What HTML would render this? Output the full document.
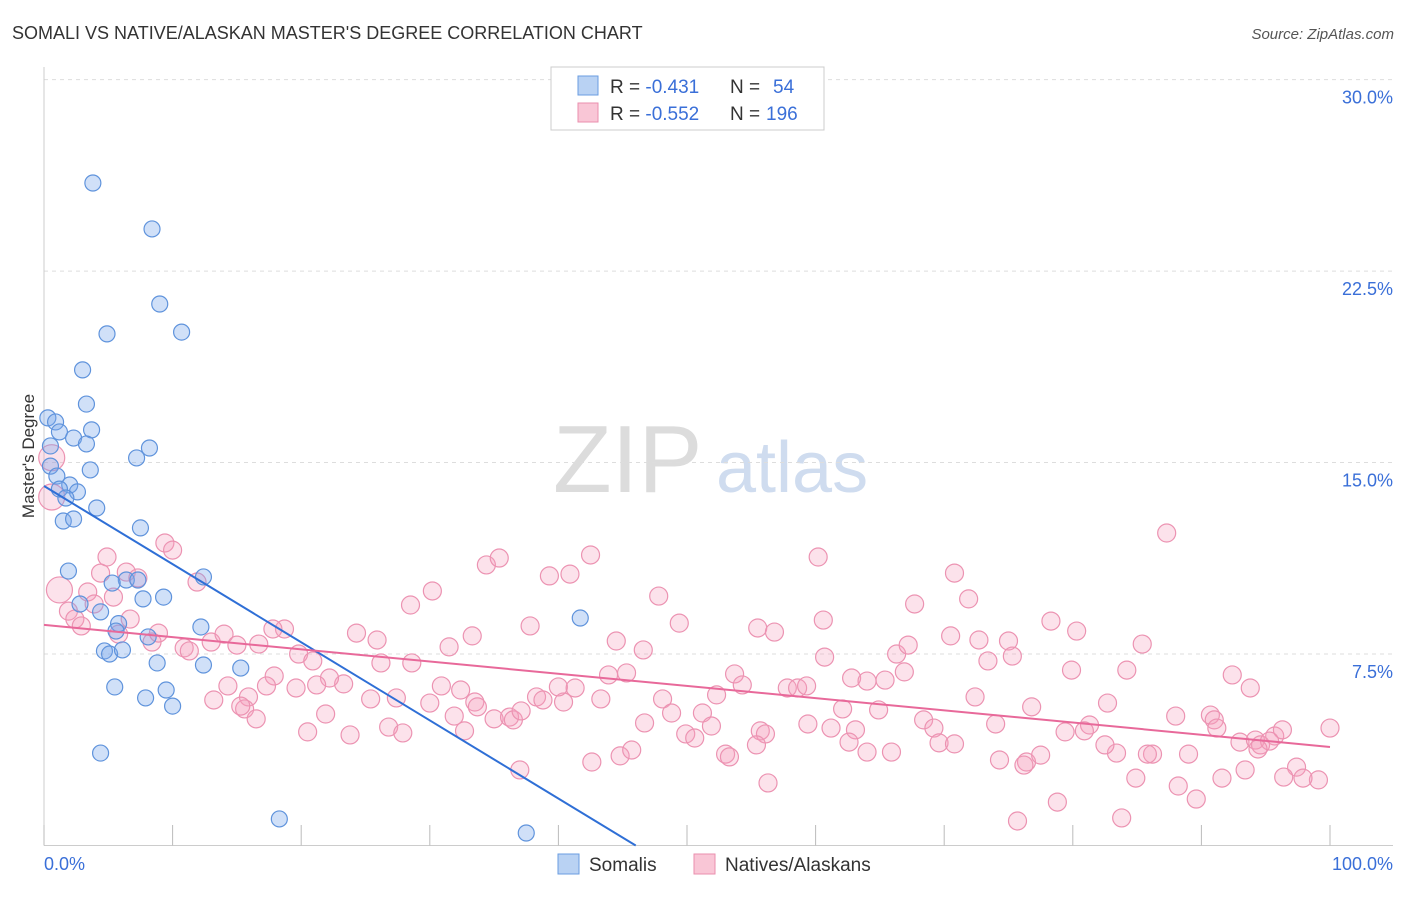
<!DOCTYPE html>
<html><head><meta charset="utf-8">
<style>
body{margin:0;background:#fff;font-family:"Liberation Sans",sans-serif;}
svg text{font-family:"Liberation Sans",sans-serif;}
</style></head>
<body>
<svg id="chart" width="1406" height="892" xmlns="http://www.w3.org/2000/svg">
<text x="12" y="39" font-size="18" fill="#333">SOMALI VS NATIVE/ALASKAN MASTER'S DEGREE CORRELATION CHART</text>
<text x="1394" y="39" font-size="15" fill="#555" text-anchor="end" font-style="italic">Source: ZipAtlas.com</text>
<g>
<text x="553" y="492" font-size="96" font-family="Liberation Serif" fill="#dcdcdc">ZIP</text>
<text x="716" y="492" font-size="72" fill="#cfdcef">atlas</text>
</g>
<g id="grid"></g>
<g id="axes"></g>
<g id="marks"></g>
<g id="trends"></g>
<text transform="translate(34,456) rotate(-90)" font-size="17" fill="#333" text-anchor="middle">Master's Degree</text>
<g>
<rect x="551" y="67" width="273" height="63" fill="#fff" stroke="#ccc"/>
<rect x="578" y="76" width="20" height="19" fill="#b9d2f3" stroke="#6a9ce0"/>
<rect x="578" y="103" width="20" height="19" fill="#f9c6d6" stroke="#ea8fae"/>
<text x="610" y="93" font-size="19" fill="#333">R = <tspan fill="#3a6fd8">-0.431</tspan><tspan x="730">N = </tspan><tspan fill="#3a6fd8" x="773">54</tspan></text>
<text x="610" y="120" font-size="19" fill="#333">R = <tspan fill="#3a6fd8">-0.552</tspan><tspan x="730">N = </tspan><tspan fill="#3a6fd8" x="766">196</tspan></text>
</g>
<g>
<rect x="558" y="854" width="21" height="20" fill="#b9d2f3" stroke="#6a9ce0"/>
<text x="589" y="871" font-size="19" fill="#333">Somalis</text>
<rect x="694" y="854" width="21" height="20" fill="#f9c6d6" stroke="#ea8fae"/>
<text x="725" y="871" font-size="19" fill="#333">Natives/Alaskans</text>
</g>
</svg>
<script>
const yTicks=[7.5,15,22.5,30];
const yTickLabels=["7.5%","15.0%","22.5%","30.0%"];
const xTickLabels=["0.0%","100.0%"];
const somaliX=[3.8,8.4,9.0,10.7,4.9,3.0,3.3,0.3,0.9,1.2,3.7,2.3,3.3,8.2,7.2,0.5,3.6,1.0,2.0,1.2,2.6,1.7,4.1,1.5,2.3,7.5,1.9,12.4,6.4,5.3,7.3,2.8,4.4,7.7,9.3,5.8,12.2,8.1,5.6,4.7,5.1,6.1,8.8,12.4,15.3,5.5,9.5,7.9,10.0,4.4,18.3,37.5,41.7,0.5];
const somaliY=[25.95,24.15,21.21,20.11,20.04,18.63,17.29,16.75,16.59,16.2,16.28,15.96,15.73,15.57,15.18,14.86,14.71,14.47,14.12,13.96,13.85,13.61,13.22,12.71,12.79,12.44,10.75,10.52,10.4,10.28,10.4,9.46,9.15,9.66,9.73,8.69,8.56,8.17,8.4,7.62,7.5,7.66,7.15,7.07,6.95,6.21,6.09,5.78,5.46,3.62,1.04,0.49,8.91,15.65];
const nativeX=[0.6,0.6,1.2,4.9,4.4,6.4,7.3,9.4,10.0,11.9,3.4,5.4,3.9,1.9,2.4,2.9,6.7,5.8,8.4,8.9,10.9,11.3,13.0,14.0,15.0,16.7,18.7,17.8,19.8,20.9,24.3,25.9,28.5,30.2,34.4,35.4,39.3,40.9,42.5,37.8,33.3,31.5,28.6,26.2,23.3,22.2,21.2,19.6,17.9,17.3,15.9,14.3,15.6,13.2,16.5,15.3,20.5,21.9,23.8,26.8,27.9,25.4,27.4,30.0,30.9,32.4,33.5,35.0,31.9,32.7,36.2,36.5,37.1,38.3,38.8,40.4,40.0,41.3,43.3,43.9,45.3,44.5,46.6,47.8,49.4,48.1,48.8,46.7,49.9,50.6,51.2,51.9,53.7,54.3,52.3,55.5,56.8,57.8,58.6,59.3,60.2,60.6,60.7,62.8,64.0,66.3,67.2,66.9,65.4,62.1,61.2,63.1,64.9,67.7,70.8,71.9,70.5,72.7,75.0,75.3,73.4,72.4,68.4,69.2,69.6,70.8,74.0,74.3,76.8,76.4,78.3,80.3,79.9,82.7,84.2,85.4,87.3,92.4,93.8,88.0,90.7,89.0,91.0,91.2,93.0,94.2,95.7,96.3,94.6,95.3,100.0,97.4,99.1,97.9,96.4,94.4,93.4,91.6,89.6,88.2,84.9,83.8,78.8,75.7,86.2,85.8,83.4,82.5,81.3,80.9,79.4,77.5,76.2,65.9,64.0,62.6,59.4,55.7,56.1,56.3,55.4,53.0,53.3,44.8,42.6,45.7,37.0,33.7];
const nativeY=[15.19,13.65,10.01,11.3,10.67,10.71,10.48,11.85,11.57,10.32,9.93,9.73,9.46,9.18,8.87,8.6,8.87,8.28,7.97,8.32,7.74,7.62,7.97,8.28,7.85,7.89,8.48,8.48,7.5,7.23,8.32,8.05,9.42,9.97,10.99,11.26,10.56,10.63,11.38,8.6,8.21,7.78,7.15,7.15,6.33,6.56,6.29,6.17,6.64,6.25,5.82,6.25,5.35,5.7,4.96,5.46,4.45,5.15,4.33,4.64,4.41,5.74,5.78,5.58,6.25,6.09,5.62,4.96,5.07,4.49,5.03,4.92,5.27,5.82,5.7,5.62,6.21,6.17,5.74,6.68,6.76,8.01,7.66,9.77,8.71,5.74,5.19,4.8,4.37,4.21,5.19,4.68,6.72,6.29,5.9,8.52,8.36,6.17,6.17,6.25,11.3,8.83,7.38,6.56,6.44,7.5,7.85,6.8,6.48,5.35,4.6,4.53,5.31,9.46,10.67,9.66,8.21,8.05,8.01,7.42,7.23,5.82,4.92,4.6,4.02,3.98,4.76,3.35,5.43,3.27,8.79,8.4,6.87,5.58,6.87,7.89,12.24,6.68,6.17,5.07,5.11,3.58,4.92,4.6,4.05,4.13,4.29,4.53,3.94,4.09,4.6,3.07,2.57,2.64,2.68,3.78,2.96,2.64,1.82,2.33,2.64,1.08,1.7,0.96,3.58,3.58,3.62,3.94,4.72,4.49,4.45,3.54,3.15,3.66,3.66,4.05,4.76,4.49,4.37,2.45,3.94,3.58,3.47,3.51,3.27,3.74,2.96,5.43];
const somaliTrend=[14.08,-0.306];
const nativeTrend=[8.64,-0.0478];
const NS="http://www.w3.org/2000/svg";
const X0=44,X1=1330,Y0=845.5,PPU=25.53;
const sx=p=>X0+p*(X1-X0)/100;
const sy=v=>Y0-v*PPU;
function mk(tag,attrs,parent){const e=document.createElementNS(NS,tag);for(const k in attrs)e.setAttribute(k,attrs[k]);parent.appendChild(e);return e;}
const grid=document.getElementById('grid'),axes=document.getElementById('axes'),marks=document.getElementById('marks'),trends=document.getElementById('trends');
yTicks.forEach((t,i)=>{
 const l=mk('line',{x1:X0,x2:1393,y1:sy(t),y2:sy(t),stroke:'#ddd','stroke-dasharray':'4,4'},grid);
 
 
 const tx=mk('text',{x:1393,y:sy(t)+24,'font-size':18,fill:'#3a6fd8','text-anchor':'end'},axes);
 tx.textContent=yTickLabels[i];
 
 
});
const la=mk('line',{x1:X0,x2:X0,y1:67,y2:Y0,stroke:'#ccc'},axes);


const ba=mk('line',{x1:X0,x2:1393,y1:Y0,y2:Y0,stroke:'#ccc'},axes);


for(let p=0;p<=100;p+=10){
 const t=mk('line',{x1:sx(p),x2:sx(p),y1:825,y2:Y0,stroke:'#bbb'},axes);
 
 
}
[[0,'start',44],[100,'end',1393]].forEach((a,i)=>{
 const tx=mk('text',{x:a[2],y:870,'font-size':18,fill:'#3a6fd8','text-anchor':a[1]},axes);
 tx.textContent=xTickLabels[i];
 
 
});
nativeX.forEach((x,i)=>{
 const r=i<3?13:9;
 const c=mk('circle',{cx:sx(x),cy:sy(nativeY[i]),r:r,fill:'rgba(244,160,188,0.3)',stroke:'#ec93b2','stroke-width':1.2},marks);
 
 
});
somaliX.forEach((x,i)=>{
 const c=mk('circle',{cx:sx(x),cy:sy(somaliY[i]),r:8,fill:'rgba(120,165,235,0.35)',stroke:'#5f93dc','stroke-width':1.2},marks);
 
 
});
const sEnd=-somaliTrend[0]/somaliTrend[1];
const t1=mk('line',{x1:sx(0),y1:sy(somaliTrend[0]),x2:sx(sEnd),y2:sy(0),stroke:'#2f6fd6','stroke-width':2},trends);


const t2=mk('line',{x1:sx(0),y1:sy(nativeTrend[0]),x2:sx(100),y2:sy(nativeTrend[0]+nativeTrend[1]*100),stroke:'#e8699a','stroke-width':2},trends);


</script>
</body></html>
